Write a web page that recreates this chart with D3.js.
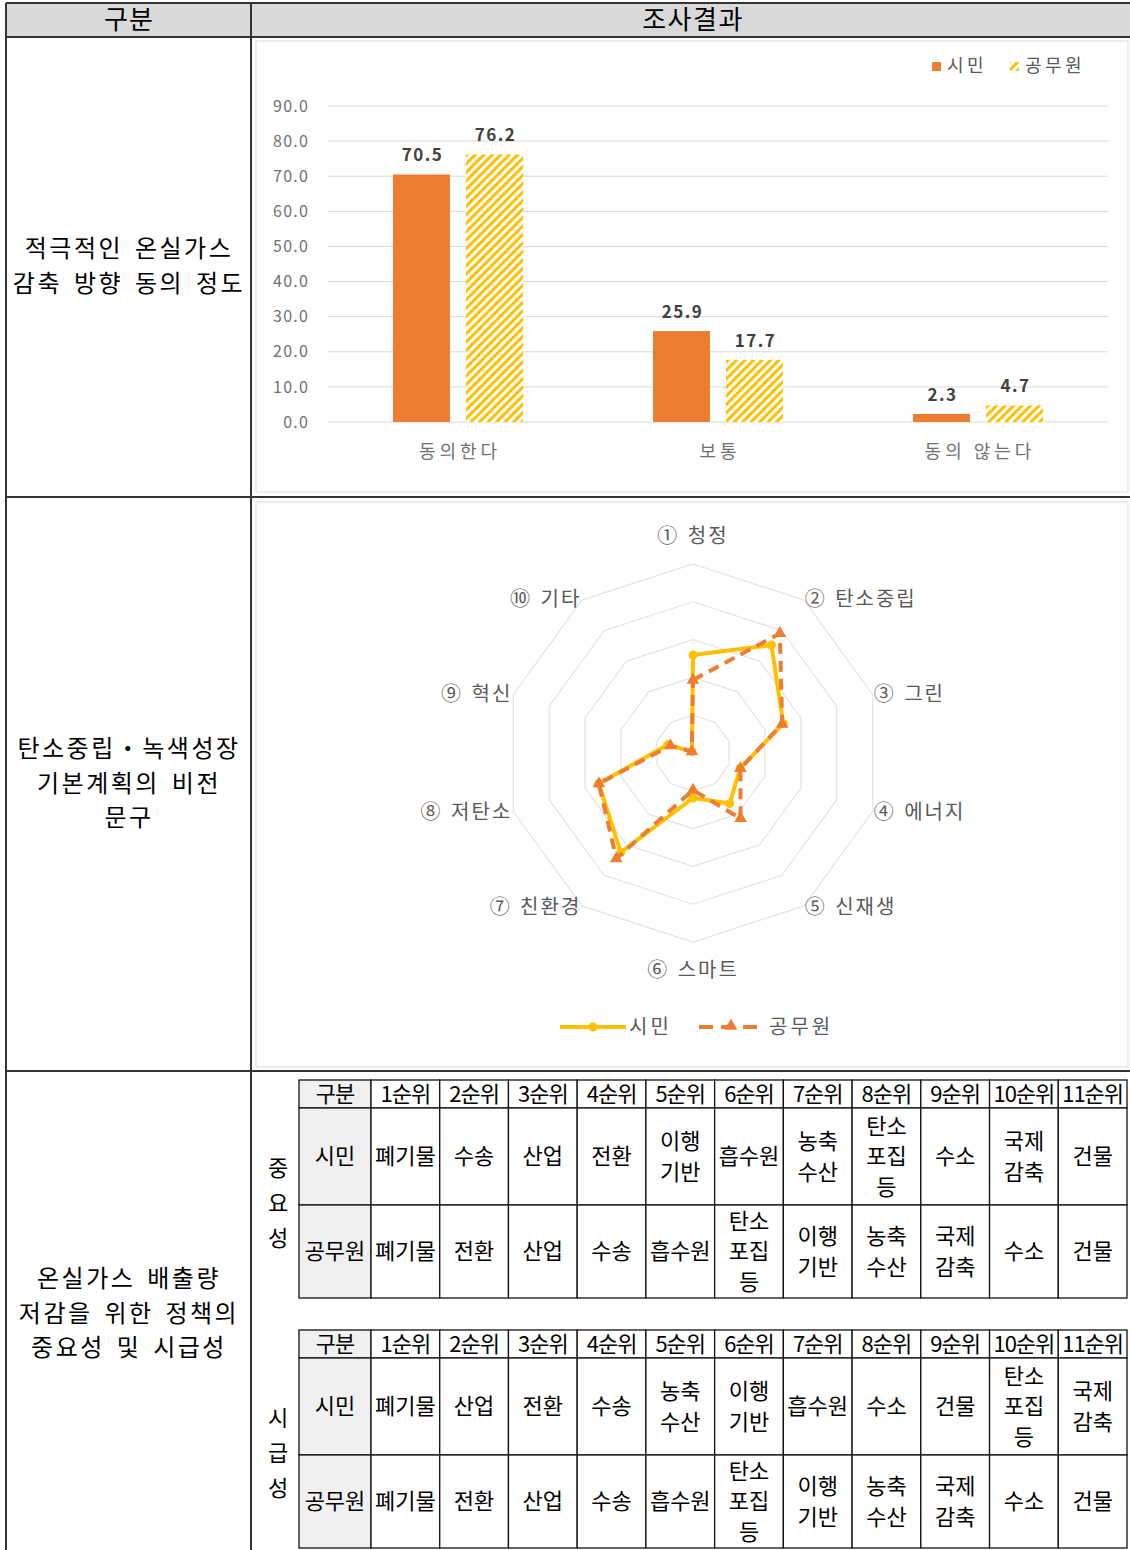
<!DOCTYPE html>
<html>
<head>
<meta charset="utf-8">
<script src="https://cdn.jsdelivr.net/npm/d3@7"></script>
<style>
  body { margin: 0; background: #fff; }
  text { font-family: "Noto Sans CJK KR", "Noto Sans", sans-serif; }
</style>
</head>
<body>
<script>

// bar chart data
var barCats = ["동의한다", "보통", "동의 않는다"];
var barSeries = ["시민", "공무원"];
var barCitizen = [70.5, 25.9, 2.3];
var barOfficial = [76.2, 17.7, 4.7];
var barTicks = [0, 10, 20, 30, 40, 50, 60, 70, 80, 90];

// radar data (share %)
var radarAxes = ["① 청정", "② 탄소중립", "③ 그린", "④ 에너지", "⑤ 신재생",
                 "⑥ 스마트", "⑦ 친환경", "⑧ 저탄소", "⑨ 혁신", "⑩ 기타"];
var radarCitizen  = [25.9, 35.3, 25.1, 13.1, 16.5, 11.9, 32.5, 26.2, 7.0, 0.5];
var radarOfficial = [19.3, 39.1, 24.8, 13.2, 21.4,  9.8, 34.5, 26.2, 6.3, 0.5];
var radarRings = [10, 20, 30, 40, 50];

// ranking tables
var rankHeads = ["구분", "1순위", "2순위", "3순위", "4순위", "5순위", "6순위",
                 "7순위", "8순위", "9순위", "10순위", "11순위"];
var importCitizen  = ["폐기물", "수송", "산업", "전환", "이행\n기반", "흡수원", "농축\n수산",
                      "탄소\n포집\n등", "수소", "국제\n감축", "건물"];
var importOfficial = ["폐기물", "전환", "산업", "수송", "흡수원", "탄소\n포집\n등", "이행\n기반",
                      "농축\n수산", "국제\n감축", "수소", "건물"];
var urgentCitizen  = ["폐기물", "산업", "전환", "수송", "농축\n수산", "이행\n기반", "흡수원",
                      "수소", "건물", "탄소\n포집\n등", "국제\n감축"];
var urgentOfficial = ["폐기물", "전환", "산업", "수송", "흡수원", "탄소\n포집\n등", "이행\n기반",
                      "농축\n수산", "국제\n감축", "수소", "건물"];

var orange = "#ED7D31", yellow = "#FFC000", gray = "#595959";

var svg = d3.select("body").append("svg")
    .attr("width", 1130)
    .attr("height", 1550);

var defs = svg.append("defs");
var hatch = defs.append("pattern")
    .attr("id", "hatch")
    .attr("patternUnits", "userSpaceOnUse")
    .attr("width", 6).attr("height", 6)
    .attr("patternTransform", "rotate(45)");
hatch.append("rect").attr("width", 6).attr("height", 6).attr("fill", "#fff");
hatch.append("rect").attr("width", 3).attr("height", 6).attr("fill", yellow);

// ---------- outer table ----------
svg.append("rect")
    .attr("x", 6).attr("y", 3).attr("width", 1130).attr("height", 34)
    .attr("fill", "#d9d9d9");

var hLines = [3, 37, 497, 1071];
svg.selectAll(".hl").data(hLines).enter().append("line")
    .attr("x1", 6).attr("x2", 1130)
    .attr("y1", function(d) { return d; }).attr("y2", function(d) { return d; })
    .attr("stroke", "#333").attr("stroke-width", 2);
svg.selectAll(".vl").data([6, 251]).enter().append("line")
    .attr("y1", 3).attr("y2", 1550)
    .attr("x1", function(d) { return d; }).attr("x2", function(d) { return d; })
    .attr("stroke", "#333").attr("stroke-width", 2);

svg.append("text").attr("x", 129).attr("y", 20).attr("dy", "0.35em")
    .attr("text-anchor", "middle").style("font-size", "26px").style("letter-spacing", "1px").text("구분");
svg.append("text").attr("x", 693).attr("y", 20).attr("dy", "0.35em")
    .attr("text-anchor", "middle").style("font-size", "26px").style("letter-spacing", "1.5px").text("조사결과");

var leftLabels = [
  {lines: ["적극적인 온실가스", "감축 방향 동의 정도"], y: 249},
  {lines: ["탄소중립・녹색성장", "기본계획의 비전", "문구"], y: 749},
  {lines: ["온실가스 배출량", "저감을 위한 정책의", "중요성 및 시급성"], y: 1279}
];
leftLabels.forEach(function(l) {
  l.lines.forEach(function(s, i) {
    svg.append("text")
        .attr("x", 129).attr("y", l.y + i * 34.5).attr("dy", "0.35em")
        .attr("text-anchor", "middle")
        .style("font-size", "24px")
        .style("letter-spacing", "2.5px")
        .style("word-spacing", "4px")
        .text(s);
  });
});

// ---------- bar chart ----------
svg.append("rect")
    .attr("x", 256).attr("y", 41).attr("width", 872).attr("height", 451)
    .attr("fill", "none").attr("stroke", "#d9d9d9");

var y = d3.scaleLinear().domain([0, 90]).range([422, 106]);
var x0 = d3.scaleBand().domain(barCats).range([328, 1108]);
var x1 = d3.scaleBand().domain(barSeries).range([-65, 65]).paddingInner(0.22);

var bars = svg.append("g");
bars.selectAll(".grid").data(barTicks).enter().append("line")
    .attr("x1", 328).attr("x2", 1108)
    .attr("y1", function(d) { return y(d); }).attr("y2", function(d) { return y(d); })
    .attr("stroke", "#d9d9d9");

var yAxis = bars.append("g")
    .attr("transform", "translate(312,0)")
    .call(d3.axisLeft(y).tickValues(barTicks).tickSize(0).tickFormat(d3.format(".1f")));
yAxis.select(".domain").remove();
yAxis.selectAll("text")
    .attr("fill", "#707070")
    .style("font-size", "16px")
    .style("letter-spacing", "1.2px")
    .style("font-family", "\"Noto Sans CJK KR\", sans-serif");

var xAxis = bars.append("g")
    .attr("transform", "translate(2,442)")
    .call(d3.axisBottom(x0).tickSize(0));
xAxis.select(".domain").remove();
xAxis.selectAll("text")
    .attr("fill", "#707070")
    .style("font-size", "18px")
    .style("letter-spacing", "4px")
    .style("font-family", "\"Noto Sans CJK KR\", sans-serif");

var barData = [];
barCats.forEach(function(c, i) {
  barData.push({cat: c, s: "시민", v: barCitizen[i]});
  barData.push({cat: c, s: "공무원", v: barOfficial[i]});
});

var bx = function(d) { return x0(d.cat) + x0.bandwidth() / 2 + x1(d.s); };

bars.selectAll(".bar").data(barData).enter().append("rect")
    .attr("x", bx)
    .attr("y", function(d) { return y(d.v); })
    .attr("width", x1.bandwidth())
    .attr("height", function(d) { return y(0) - y(d.v); })
    .attr("fill", function(d) { return d.s == "시민" ? orange : "url(#hatch)"; });

bars.selectAll(".lbl").data(barData).enter().append("text")
    .attr("x", function(d) { return bx(d) + x1.bandwidth() / 2 + 1; })
    .attr("y", function(d) { return y(d.v) - 19; })
    .attr("dy", "0.35em")
    .attr("text-anchor", "middle")
    .attr("fill", "#404040")
    .style("font-size", "17px")
    .style("font-weight", "bold")
    .style("letter-spacing", "1.5px")
    .text(function(d) { return d.v.toFixed(1); });

// legend
bars.append("rect").attr("x", 932).attr("y", 62).attr("width", 9).attr("height", 9).attr("fill", orange);
bars.append("text").attr("x", 947).attr("y", 66).attr("dy", "0.35em")
    .attr("fill", gray).style("font-size", "18px").style("letter-spacing", "3.5px").text("시민");
bars.append("rect").attr("x", 1010).attr("y", 62).attr("width", 9).attr("height", 9).attr("fill", "url(#hatch)");
bars.append("text").attr("x", 1025).attr("y", 66).attr("dy", "0.35em")
    .attr("fill", gray).style("font-size", "18px").style("letter-spacing", "3.5px").text("공무원");

// ---------- radar chart ----------
svg.append("rect")
    .attr("x", 256).attr("y", 502).attr("width", 872).attr("height", 565)
    .attr("fill", "none").attr("stroke", "#d9d9d9");

var cx = 693, cy = 753;
var r = d3.scaleLinear().domain([0, 50]).range([0, 189]);
var n = radarAxes.length;
var ang = function(i) { return i * 2 * Math.PI / n; };
var pt = function(v, i) { return [cx + r(v) * Math.sin(ang(i)), cy - r(v) * Math.cos(ang(i))]; };

var radar = svg.append("g");
radar.selectAll(".ring").data(radarRings).enter().append("polygon")
    .attr("points", function(v) {
      return d3.range(n).map(function(i) { return pt(v, i).join(","); }).join(" ");
    })
    .attr("fill", "none").attr("stroke", "#e3e3e3").attr("stroke-width", 1.2);

radar.selectAll(".axlbl").data(radarAxes).enter().append("text")
    .attr("x", function(d, i) {
      var s = Math.sin(ang(i));
      var rr = Math.abs(s) < 0.1 ? 217 : 190;
      return cx + rr * s;
    })
    .attr("y", function(d, i) {
      var s = Math.sin(ang(i));
      var rr = Math.abs(s) < 0.1 ? 217 : 190;
      return cy - rr * Math.cos(ang(i));
    })
    .attr("dy", "0.35em")
    .attr("text-anchor", function(d, i) {
      var s = Math.sin(ang(i));
      return s > 0.1 ? "start" : (s < -0.1 ? "end" : "middle");
    })
    .attr("fill", gray)
    .style("font-size", "20px")
    .style("letter-spacing", "2px")
    .style("word-spacing", "2px")
    .text(function(d) { return d; });

var radarLine = d3.line().curve(d3.curveLinearClosed);

radar.append("path")
    .attr("d", radarLine(radarCitizen.map(pt)))
    .attr("fill", "none").attr("stroke", yellow).attr("stroke-width", 4)
    .attr("stroke-linejoin", "round");
radar.selectAll(".cm").data(radarCitizen).enter().append("circle")
    .attr("cx", function(d, i) { return pt(d, i)[0]; })
    .attr("cy", function(d, i) { return pt(d, i)[1]; })
    .attr("r", 4.5).attr("fill", yellow);

radar.append("path")
    .attr("d", radarLine(radarOfficial.map(pt)))
    .attr("fill", "none").attr("stroke", orange).attr("stroke-width", 4)
    .attr("stroke-dasharray", "11,7");
var tri = d3.symbol().type(d3.symbolTriangle).size(70);
radar.selectAll(".om").data(radarOfficial).enter().append("path")
    .attr("d", tri)
    .attr("transform", function(d, i) { var p = pt(d, i); return "translate(" + p[0] + "," + p[1] + ")"; })
    .attr("fill", orange);

// radar legend
radar.append("line").attr("x1", 560).attr("x2", 626).attr("y1", 1027).attr("y2", 1027)
    .attr("stroke", yellow).attr("stroke-width", 4);
radar.append("circle").attr("cx", 593).attr("cy", 1027).attr("r", 4.5).attr("fill", yellow);
radar.append("text").attr("x", 629).attr("y", 1027).attr("dy", "0.35em")
    .attr("fill", gray).style("font-size", "20px").style("letter-spacing", "3px").text("시민");
radar.append("line").attr("x1", 699).attr("x2", 760).attr("y1", 1027).attr("y2", 1027)
    .attr("stroke", orange).attr("stroke-width", 4).attr("stroke-dasharray", "14,8");
radar.append("path").attr("d", tri).attr("transform", "translate(731,1026)").attr("fill", orange);
radar.append("text").attr("x", 769).attr("y", 1027).attr("dy", "0.35em")
    .attr("fill", gray).style("font-size", "20px").style("letter-spacing", "3px").text("공무원");

// ---------- ranking tables ----------
var drawRankTable = function(top, label, citizen, official) {
  var g = svg.append("g");
  var colX = d3.scaleLinear().domain([0, 11]).range([371, 1127]);
  var left = 299;
  var rows = [top, top + 28, top + 125, top + 218];
  var cells = [];
  rankHeads.forEach(function(h, i) {
    cells.push({row: 0, col: i, text: h});
  });
  cells.push({row: 1, col: 0, text: "시민"});
  cells.push({row: 2, col: 0, text: "공무원"});
  citizen.forEach(function(t, i) { cells.push({row: 1, col: i + 1, text: t}); });
  official.forEach(function(t, i) { cells.push({row: 2, col: i + 1, text: t}); });

  var cellX = function(c) { return c == 0 ? left : colX(c - 1); };
  var cellW = function(c) { return c == 0 ? 371 - left : colX(c) - colX(c - 1); };

  g.selectAll(".cell").data(cells).enter().append("rect")
      .attr("x", function(d) { return cellX(d.col); })
      .attr("y", function(d) { return rows[d.row]; })
      .attr("width", function(d) { return cellW(d.col); })
      .attr("height", function(d) { return rows[d.row + 1] - rows[d.row]; })
      .attr("fill", function(d) { return d.col == 0 ? "#f0f0f0" : "#fff"; })
      .attr("stroke", "#111").attr("stroke-width", 1.3);

  cells.forEach(function(d) {
    var parts = d.text.split("\n");
    var mx = cellX(d.col) + cellW(d.col) / 2;
    var my = (rows[d.row] + rows[d.row + 1]) / 2;
    parts.forEach(function(p, k) {
      g.append("text")
          .attr("x", mx)
          .attr("y", my + (k - (parts.length - 1) / 2) * 30.5)
          .attr("dy", "0.36em")
          .attr("text-anchor", "middle")
          .style("font-size", "22px")
          .style("letter-spacing", d.row == 0 ? "-1px" : "0px")
          .text(p);
    });
  });

  var mid = (rows[1] + rows[3]) / 2;
  label.split("").forEach(function(ch, k) {
    g.append("text")
        .attr("x", 278).attr("y", mid + (k - 1) * 35)
        .attr("dy", "0.36em")
        .attr("text-anchor", "middle")
        .style("font-size", "22px")
        .text(ch);
  });
};

drawRankTable(1080, "중요성", importCitizen, importOfficial);
drawRankTable(1330, "시급성", urgentCitizen, urgentOfficial);

</script>
</body>
</html>
